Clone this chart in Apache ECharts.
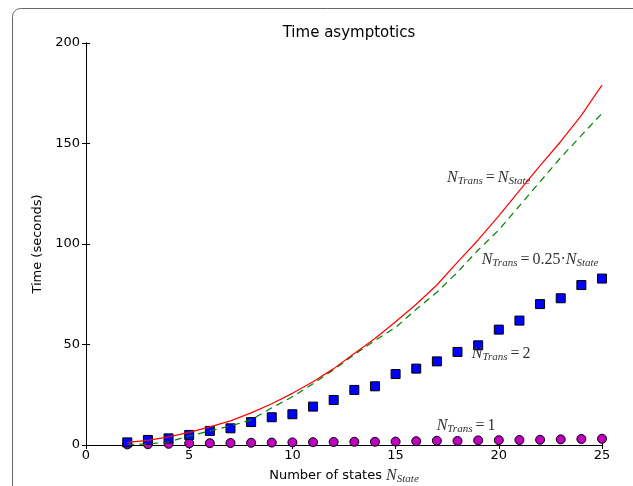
<!DOCTYPE html>
<html>
<head>
<meta charset="utf-8">
<script src="https://cdn.jsdelivr.net/npm/echarts@6/dist/echarts.min.js"></script>
<style>
  html, body { margin: 0; padding: 0; background: #fff; }
  #chart { width: 633px; height: 486px; }
</style>
</head>
<body>
<div id="chart"></div>
<script>
// number of states
var states = [2, 3, 4, 5, 6, 7, 8, 9, 10, 11, 12, 13, 14, 15, 16, 17, 18, 19, 20, 21, 22, 23, 24, 25];
// N_Trans = N_State (red solid)
var tFull = [1.3, 2.3, 4, 6.3, 9, 12, 16, 20.5, 25.7, 31.5, 38, 45.5, 53, 61.3, 70, 79.6, 91, 102, 114, 126.5, 139, 151, 164, 179];
// N_Trans = 0.25 * N_State (green dashed)
var tQuarter = [0.3, 0.5, 1.5, 4.5, 7, 9.5, 12.5, 18.5, 24, 30.5, 37.5, 45, 52, 58.5, 67.5, 76, 86, 97, 107, 119, 131, 143, 154, 165];
// N_Trans = 2 (blue squares)
var tTwo = [1.3, 2.5, 3.3, 5, 7, 8.3, 11.4, 13.8, 15.3, 19.1, 22.4, 27.4, 29.2, 35.3, 38, 41.6, 46.3, 49.6, 57.4, 61.9, 70.1, 73, 79.6, 82.8];
// N_Trans = 1 (magenta circles)
var tOne = [0.3, 0.4, 0.6, 0.8, 0.9, 1.0, 1.1, 1.2, 1.3, 1.4, 1.5, 1.6, 1.6, 1.7, 1.9, 2.1, 2.0, 2.3, 2.4, 2.5, 2.6, 2.8, 3.0, 3.1];

var xTicks = [0, 5, 10, 15, 20, 25];
var yTicks = [0, 50, 100, 150, 200];

function pairs(ys) {
  return states.map(function (x, i) { return [x, ys[i]]; });
}

var mathRich = {
  n: { fontFamily: 'Liberation Serif', fontStyle: 'italic', fontSize: 16, color: '#333', verticalAlign: 'middle' },
  d: { fontFamily: 'Liberation Serif', fontSize: 16, color: '#333', verticalAlign: 'middle' },
  s: { fontFamily: 'Liberation Serif', fontStyle: 'italic', fontSize: 11, color: '#333', verticalAlign: 'bottom', padding: [7, 0, 0, 0] },
  e: { fontFamily: 'Liberation Serif', fontSize: 16, color: '#333', padding: [0, 3, 0, 3] }
};

function note(coord, text) {
  return {
    silent: true,
    symbol: 'circle',
    symbolSize: 0,
    data: [{ coord: coord }],
    label: { show: true, position: 'right', distance: 0, formatter: text, rich: mathRich }
  };
}

var chart = echarts.init(document.getElementById('chart'));

var axisCommon = {
  type: 'value',
  axisLine: { show: true, lineStyle: { color: '#000', width: 1 } },
  axisTick: { show: true, inside: true, length: 4, lineStyle: { color: '#000' } },
  splitLine: { show: false }
};

var option = {
  animation: false,
  title: {
    text: 'Time asymptotics',
    left: 344,
    top: 21,
    textAlign: 'center',
    textStyle: { fontFamily: 'DejaVu Sans', fontSize: 15, fontWeight: 'normal', color: '#000' }
  },
  graphic: [{
    type: 'rect',
    shape: { x: 12.5, y: 8.5, width: 800, height: 700, r: [8, 0, 0, 0] },
    style: { fill: null, stroke: '#666', lineWidth: 1 },
    silent: true
  }],
  grid: { left: 86, right: 31, top: 43, bottom: 41, outerBoundsMode: 'none' },
  xAxis: [
    Object.assign({}, axisCommon, {
      position: 'bottom',
      min: 0, max: 25, interval: 5,
      name: '{a|Number of states }{n|N}{s|State}',
      nameLocation: 'middle',
      nameGap: 22,
      nameTextStyle: {
        rich: {
          a: { fontFamily: 'DejaVu Sans', fontSize: 13, color: '#000' },
          n: mathRich.n, s: mathRich.s
        }
      },
      axisLabel: { fontFamily: 'DejaVu Sans', fontSize: 13, color: '#000', margin: 4 }
    }),
    Object.assign({}, axisCommon, {
      position: 'top',
      min: 0, max: 25, interval: 5,
      axisLabel: { show: false }
    })
  ],
  yAxis: [
    Object.assign({}, axisCommon, {
      position: 'left',
      min: 0, max: 200, interval: 50,
      name: 'Time (seconds)',
      nameLocation: 'middle',
      nameGap: 34,
      nameTextStyle: { fontFamily: 'DejaVu Sans', fontSize: 13, color: '#000' },
      axisLabel: { fontFamily: 'DejaVu Sans', fontSize: 13, color: '#000', margin: 6 }
    }),
    Object.assign({}, axisCommon, {
      position: 'right',
      min: 0, max: 200, interval: 50,
      axisLabel: { show: false }
    })
  ],
  series: [
    {
      name: 'ones',
      type: 'scatter',
      data: pairs(tOne),
      symbol: 'circle',
      symbolSize: 9,
      clip: true,
      z: 2,
      itemStyle: { color: '#bf00bf', borderColor: '#000', borderWidth: 1, opacity: 1 },
      markPoint: note([16.99, 9.5], '{n|N}{s|Trans}{e|=}{d|1}')
    },
    {
      name: 'twos',
      type: 'scatter',
      data: pairs(tTwo),
      symbol: 'rect',
      symbolSize: 9,
      clip: true,
      z: 3,
      itemStyle: { color: '#0000ff', borderColor: '#000', borderWidth: 1, opacity: 1 },
      markPoint: note([18.69, 45.3], '{n|N}{s|Trans}{e|=}{d|2}')
    },
    {
      name: 'quarter',
      type: 'line',
      data: pairs(tQuarter),
      showSymbol: false,
      clip: true,
      z: 4,
      lineStyle: { color: '#008000', width: 1.2, type: [7, 5] },
      markPoint: note([19.17, 92], '{n|N}{s|Trans}{e|=}{d|0.25·}{n|N}{s|State}')
    },
    {
      name: 'full',
      type: 'line',
      data: pairs(tFull),
      showSymbol: false,
      clip: true,
      z: 5,
      lineStyle: { color: '#ff0000', width: 1.2 },
      markPoint: note([17.49, 132.8], '{n|N}{s|Trans}{e|=}{n|N}{s|State}')
    }
  ]
};

chart.setOption(option);
</script>
</body>
</html>
